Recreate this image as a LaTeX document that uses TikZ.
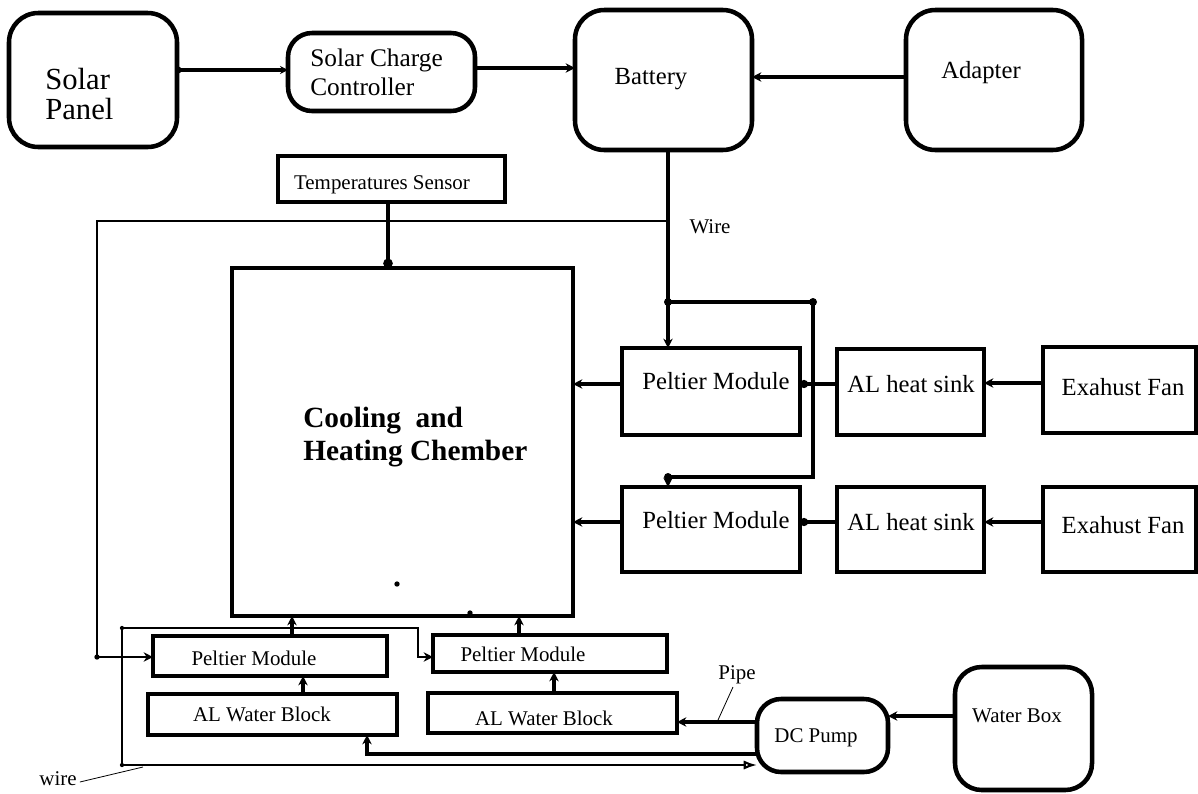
\documentclass[tikz,border=0pt]{standalone}
\usepackage{fontspec}
\setmainfont{Liberation Serif}
\usetikzlibrary{arrows.meta,fit}
\begin{document}
\begin{tikzpicture}[x=0.75pt,y=-0.75pt,
  bx/.style={draw,line width=3.4pt,inner sep=0pt,outer sep=0pt},
  rbx/.style={bx,rounded corners=18pt},
  con/.style={line width=3.2pt},
  arr/.style={con,-{Stealth[length=7pt,width=7pt]}},
  dot/.style={con,{Circle[length=6pt]}-},
  thinw/.style={line width=1.6pt},
  lbl/.style={inner sep=0pt,align=left},
  fA/.style={font=\fontsize{23}{23}\selectfont},
  fB/.style={font=\fontsize{19}{22}\selectfont},
  fC/.style={font=\fontsize{18.5}{20}\selectfont},
  fD/.style={font=\fontsize{15.7}{18}\selectfont},
  fE/.style={font=\bfseries\fontsize{22}{25}\selectfont},
]
\useasboundingbox (0,0) rectangle (1198,793);
% boxes
\node[rbx,rounded corners=22pt,fit={(9,13) (177,147)}] (sp) {};
\node[rbx,fit={(288,33) (475,111)}] (scc) {};
\node[rbx,rounded corners=22pt,fit={(575,10) (752,150)}] (bat) {};
\node[rbx,rounded corners=22pt,fit={(906,10) (1082,150)}] (adp) {};
\node[bx,line width=2.6pt,fit={(278,156) (505,202)}] (ts) {};
\node[bx,fit={(232,268) (573,616)}] (ch) {};
\node[bx,fit={(622,348) (800,435)}] (p1) {};
\node[bx,fit={(837,349) (984,435)}] (hs1) {};
\node[bx,fit={(1043,347) (1196,433)}] (f1) {};
\node[bx,fit={(622,487) (800,572)}] (p2) {};
\node[bx,fit={(837,487) (984,572)}] (hs2) {};
\node[bx,fit={(1043,487) (1196,572)}] (f2) {};
\node[bx,fit={(153,636) (387,676)}] (pbl) {};
\node[bx,fit={(148,694) (397,735)}] (wbl) {};
\node[bx,fit={(433,635) (667,672)}] (pbr) {};
\node[bx,fit={(428,693) (677,733)}] (wbr) {};
\node[rbx,fit={(757,699) (888,772)}] (pump) {};
\node[rbx,rounded corners=20pt,fit={(955,667) (1092,790)}] (wbox) {};
% texts
\node[lbl,fA,anchor=west] (tsp) at (45,94) {Solar\\Panel};
\node[lbl,fB,anchor=west] (tscc) at (310,72) {Solar Charge\\Controller};
\node[lbl,fC] (tbat) at (651,79) {Battery};
\node[lbl,fC] (tadp) at (981,73) {Adapter};
\node[lbl,fD] (tts) at (382,185) {Temperatures Sensor};
\node[lbl,fE,anchor=west] (tch) at (303,437) {Cooling\ \ and\\Heating Chember};
\node[lbl,fC] (tp1) at (716,381) {Peltier Module};
\node[lbl,fC] (tp2) at (716,520) {Peltier Module};
\node[lbl,fC] (ths1) at (911,384) {AL heat sink};
\node[lbl,fC] (ths2) at (911,522) {AL heat sink};
\node[lbl,fC] (tf1) at (1123,387) {Exahust Fan};
\node[lbl,fC] (tf2) at (1123,525) {Exahust Fan};
\node[lbl,fD] (tpbl) at (254,658) {Peltier Module};
\node[lbl,fD] (twbl) at (262,714) {AL Water Block};
\node[lbl,fD] (tpbr) at (523,654) {Peltier Module};
\node[lbl,fD] (twbr) at (544,718) {AL Water Block};
\node[lbl,fD] (tpump) at (816,738) {DC Pump};
\node[lbl,fD] (twbox) at (1017,716) {Water Box};
\node[lbl,fD] (tpipe) at (737,675) {Pipe};
\node[lbl,fD] (twire) at (710,227) {Wire};
\node[lbl,fD] (twire2) at (58,779) {wire};
% junction coordinates
\coordinate (jw) at (668,221);
\coordinate (ja) at (668,302);
\coordinate (jb) at (813,302);
\coordinate (jc) at (813,477);
\coordinate (jd) at (668,477);
\coordinate (wl) at (97,221);
\coordinate (lt) at (122,628);
\coordinate (lb) at (122,765);
\coordinate (lr) at (418,628);
\coordinate (pb) at (367,754);
% top row
\draw[con,line width=2.4pt,{Circle[length=4pt]}-{Stealth[length=6pt,width=6pt]}] (sp.east |- 0,70) -- (scc.west |- 0,70);
\draw[con,line width=2.6pt,-{Stealth[length=7pt,width=7pt]}] (scc.east |- 0,68) -- (bat.west |- 0,68);
\draw[arr] (adp.west |- 0,77) -- (bat.east |- 0,77);
% battery wire
\draw[arr] (bat.south -| jw) -- (p1.north -| jw);
\draw[con] (ja) -- (jb) -- (jc) -- (jd);
\draw[arr] (jd) -- (p2.north -| jd);
\fill (ja) circle (3pt) (jb) circle (3pt) (jd) circle (3pt);
% sensor
\draw[con,-{Circle[length=7pt]}] (ts.south -| 388,0) -- (ch.north -| 388,0);
% left wire
\draw[line width=2.2pt,-{Stealth[length=7pt,width=7pt]}] (jw) -- (wl) -- (97,657) -- (pbl.west |- 0,657);
\fill (97,657) circle (2pt);
% peltier to chamber
\draw[arr] (p1.west |- 0,384) -- (ch.east |- 0,384);
\draw[arr] (p2.west |- 0,522) -- (ch.east |- 0,522);
% peltier to heat sink
\draw[dot] (p1.east |- 0,384) -- (hs1.west |- 0,384);
\draw[dot] (p2.east |- 0,522) -- (hs2.west |- 0,522);
% fans
\draw[arr] (f1.west |- 0,383) -- (hs1.east |- 0,383);
\draw[arr] (f2.west |- 0,522) -- (hs2.east |- 0,522);
% bottom peltiers
\draw[arr] (pbl.north -| 292,0) -- (ch.south -| 292,0);
\draw[arr] (pbr.north -| 519,0) -- (ch.south -| 519,0);
\draw[arr] (wbl.north -| 303,0) -- (pbl.south -| 303,0);
\draw[arr] (wbr.north -| 554,0) -- (pbr.south -| 554,0);
% pump and pipes
\draw[arr] (wbox.west |- 0,716) -- (pump.east |- 0,716);
\draw[arr] (pump.west |- 0,722) -- (wbr.east |- 0,722);
\draw[con,line width=2.8pt,-{Stealth[length=7pt,width=7pt]}] (pump.west |- pb) -- (pb) -- (wbl.south -| pb);
% wire loop
\draw[thinw,-{Stealth[length=7pt,width=7pt]}] (lt) -- (lr) -- (418,657) -- (pbr.west |- 0,657);
\draw[thinw,-{Latex[open,length=10pt,width=7pt]}] (lt) -- (lb) -- (pump.west |- lb);
\fill (lb) circle (1.6pt) (lt) circle (1.6pt);
% leaders
\draw[line width=0.6pt] (twire2.east) ++(3,3) -- (143,767);
\draw[line width=0.6pt] (733,687) -- (718,720);
% stray dots
\fill (397,584) circle (2pt);
\fill (470,613) circle (2pt);
\end{tikzpicture}
\end{document}
